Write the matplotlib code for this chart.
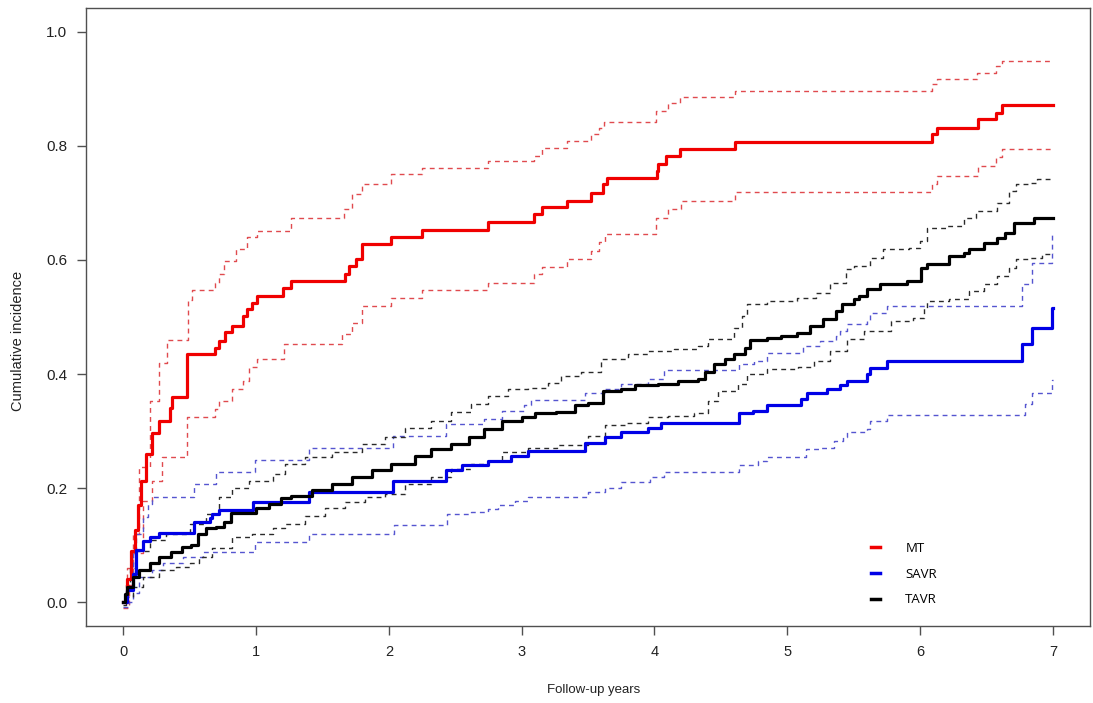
import numpy as np
import matplotlib
matplotlib.use("Agg")
from matplotlib import pyplot as plt

# cumulative incidence step curves (time in years, value)
mt_t = [0, 0.03, 0.06, 0.087, 0.11, 0.137, 0.174, 0.22, 0.27, 0.35, 0.37, 0.48, 0.69, 0.72, 0.77, 0.82,
        0.9, 0.93, 0.97, 1.01, 1.20, 1.26, 1.67, 1.70, 1.75, 1.80, 2.02, 2.25, 2.75, 3.09, 3.15, 3.34,
        3.52, 3.61, 3.64, 4.02, 4.03, 4.09, 4.19, 4.61, 6.09, 6.13, 6.44, 6.57, 6.62, 7.0]
mt_y = [0, 0.04, 0.09, 0.126, 0.17, 0.213, 0.26, 0.296, 0.318, 0.341, 0.359, 0.436, 0.446, 0.458, 0.473, 0.485,
        0.502, 0.514, 0.525, 0.537, 0.55, 0.563, 0.576, 0.59, 0.602, 0.628, 0.64, 0.653, 0.666, 0.68, 0.692, 0.703,
        0.717, 0.733, 0.744, 0.756, 0.768, 0.782, 0.794, 0.807, 0.821, 0.832, 0.847, 0.858, 0.871, 0.871]

mt_hi_t = [0, 0.03, 0.07, 0.12, 0.2, 0.27, 0.33, 0.49, 0.52, 0.69, 0.72, 0.76, 0.85, 0.93, 1.01, 1.26, 1.66,
           1.72, 1.80, 2.02, 2.25, 2.75, 3.09, 3.15, 3.34, 3.52, 3.58, 3.62, 4.01, 4.10, 4.19, 4.61, 6.09,
           6.13, 6.43, 6.57, 6.62, 7.0]
mt_hi = [0, 0.06, 0.12, 0.237, 0.353, 0.42, 0.46, 0.53, 0.548, 0.56, 0.575, 0.598, 0.62, 0.64, 0.65, 0.674, 0.69,
         0.716, 0.733, 0.75, 0.762, 0.773, 0.782, 0.796, 0.808, 0.82, 0.832, 0.842, 0.861, 0.875, 0.886, 0.896, 0.908,
         0.917, 0.928, 0.94, 0.948, 0.948]

mt_lo_t = [0, 0.04, 0.07, 0.15, 0.22, 0.29, 0.48, 0.69, 0.72, 0.82, 0.9, 0.95, 1.01, 1.21, 1.65, 1.72, 1.80,
           2.02, 2.25, 2.75, 3.09, 3.15, 3.34, 3.52, 3.58, 3.63, 4.01, 4.10, 4.20, 4.61, 6.09, 6.13, 6.44,
           6.57, 6.62, 7.0]
mt_lo = [-0.01, 0.03, 0.086, 0.178, 0.213, 0.254, 0.324, 0.338, 0.353, 0.374, 0.388, 0.412, 0.427, 0.453, 0.47,
         0.49, 0.52, 0.534, 0.548, 0.56, 0.576, 0.588, 0.602, 0.616, 0.632, 0.646, 0.674, 0.689, 0.703, 0.719,
         0.733, 0.747, 0.765, 0.78, 0.794, 0.794]

savr_t = [0, 0.03, 0.07, 0.1, 0.15, 0.2, 0.27, 0.53, 0.65, 0.67, 0.72, 0.98, 1.40, 2.03, 2.43, 2.55, 2.75,
          2.92, 3.05, 3.48, 3.63, 3.75, 3.95, 4.05, 4.64, 4.74, 4.85, 5.1, 5.15, 5.3, 5.4, 5.45, 5.6, 5.62,
          5.75, 6.77, 6.84, 6.99, 7.0]
savr_y = [0, 0.021, 0.05, 0.091, 0.108, 0.114, 0.122, 0.14, 0.147, 0.155, 0.161, 0.175, 0.193, 0.213, 0.231,
          0.24, 0.248, 0.257, 0.266, 0.28, 0.289, 0.298, 0.306, 0.315, 0.331, 0.336, 0.345, 0.357, 0.366, 0.374,
          0.38, 0.388, 0.401, 0.411, 0.423, 0.453, 0.481, 0.516, 0.516]

savr_hi_t = [0, 0.03, 0.07, 0.1, 0.15, 0.19, 0.22, 0.53, 0.7, 0.99, 1.40, 2.03, 2.43, 2.72, 2.85, 3.02, 3.07,
             3.48, 3.63, 3.75, 3.95, 4.07, 4.64, 4.75, 4.85, 5.12, 5.25, 5.37, 5.4, 5.45, 5.6, 5.62, 5.75,
             6.77, 6.84, 6.99, 7.0]
savr_hi = [0, 0.04, 0.09, 0.12, 0.149, 0.173, 0.184, 0.208, 0.228, 0.25, 0.271, 0.292, 0.313, 0.322, 0.336,
           0.345, 0.355, 0.366, 0.374, 0.383, 0.392, 0.407, 0.418, 0.423, 0.437, 0.45, 0.458, 0.467, 0.475, 0.488,
           0.493, 0.507, 0.52, 0.558, 0.595, 0.646, 0.646]

savr_lo_t = [0, 0.04, 0.07, 0.12, 0.22, 0.3, 0.45, 0.6, 0.99, 1.40, 2.04, 2.44, 2.62, 2.75, 2.82, 2.95, 3.05,
             3.5, 3.63, 3.75, 3.97, 4.07, 4.64, 4.78, 4.85, 5.14, 5.25, 5.35, 5.42, 5.45, 5.6, 5.62, 5.75,
             6.79, 6.84, 6.99, 7.0]
savr_lo = [-0.008, 0.0, 0.016, 0.044, 0.056, 0.068, 0.08, 0.088, 0.105, 0.12, 0.136, 0.155, 0.159, 0.164, 0.17,
           0.178, 0.184, 0.194, 0.201, 0.21, 0.219, 0.229, 0.24, 0.247, 0.254, 0.268, 0.271, 0.283, 0.29, 0.299,
           0.304, 0.318, 0.329, 0.348, 0.366, 0.389, 0.389]

tavr_t = [0, 0.01, 0.03, 0.07, 0.12, 0.2, 0.27, 0.36, 0.44, 0.51, 0.56, 0.62, 0.7, 0.76, 0.81, 1.0, 1.1, 1.19,
          1.26, 1.42, 1.57, 1.72, 1.87, 2.02, 2.2, 2.32, 2.47, 2.6, 2.72, 2.85, 3.0, 3.1, 3.26, 3.4, 3.5, 3.61,
          3.75, 3.85, 4.03, 4.18, 4.33, 4.38, 4.45, 4.53, 4.6, 4.68, 4.72, 4.85, 4.95, 5.07, 5.17, 5.27, 5.37,
          5.41, 5.5, 5.54, 5.6, 5.7, 5.9, 6.01, 6.05, 6.22, 6.33, 6.37, 6.48, 6.58, 6.64, 6.71, 6.86, 7.0]
tavr_y = [0, 0.015, 0.026, 0.044, 0.056, 0.068, 0.079, 0.088, 0.097, 0.1, 0.12, 0.13, 0.132, 0.14, 0.157, 0.166,
          0.173, 0.182, 0.187, 0.196, 0.208, 0.219, 0.231, 0.243, 0.257, 0.269, 0.278, 0.29, 0.303, 0.318, 0.324,
          0.331, 0.334, 0.345, 0.35, 0.371, 0.374, 0.38, 0.383, 0.388, 0.392, 0.403, 0.418, 0.427, 0.436, 0.446,
          0.46, 0.464, 0.467, 0.472, 0.485, 0.497, 0.511, 0.523, 0.532, 0.537, 0.549, 0.558, 0.563, 0.586, 0.593,
          0.607, 0.612, 0.619, 0.63, 0.639, 0.647, 0.665, 0.674, 0.674]

tavr_hi_t = [0, 0.02, 0.05, 0.1, 0.2, 0.32, 0.5, 0.62, 0.72, 0.82, 0.95, 1.13, 1.22, 1.37, 1.57, 1.8, 1.97,
             2.12, 2.32, 2.47, 2.62, 2.75, 2.9, 3.05, 3.2, 3.3, 3.45, 3.6, 3.8, 3.95, 4.15, 4.33, 4.4, 4.6, 4.66,
             4.7, 4.85, 5.07, 5.22, 5.32, 5.44, 5.5, 5.62, 5.72, 5.92, 6.0, 6.05, 6.2, 6.33, 6.42, 6.58, 6.67,
             6.72, 6.82, 6.88, 7.0]
tavr_hi = [0, 0.03, 0.06, 0.09, 0.11, 0.12, 0.138, 0.155, 0.184, 0.2, 0.213, 0.225, 0.243, 0.254, 0.263, 0.278,
           0.289, 0.306, 0.318, 0.333, 0.348, 0.362, 0.374, 0.376, 0.385, 0.397, 0.403, 0.427, 0.436, 0.441, 0.444,
           0.45, 0.462, 0.481, 0.502, 0.523, 0.528, 0.534, 0.542, 0.56, 0.584, 0.59, 0.604, 0.619, 0.621, 0.633,
           0.656, 0.66, 0.674, 0.686, 0.7, 0.721, 0.733, 0.735, 0.742, 0.742]

tavr_lo_t = [0, 0.02, 0.07, 0.15, 0.27, 0.4, 0.5, 0.57, 0.67, 0.82, 0.97, 1.13, 1.22, 1.37, 1.52, 1.67, 1.82,
             1.97, 2.12, 2.32, 2.47, 2.62, 2.75, 2.85, 3.05, 3.27, 3.5, 3.63, 3.78, 3.95, 4.1, 4.3, 4.4, 4.48,
             4.63, 4.7, 4.85, 5.08, 5.2, 5.32, 5.45, 5.58, 5.78, 5.95, 6.03, 6.05, 6.22, 6.37, 6.48, 6.58, 6.67,
             6.72, 6.82, 6.92, 7.0]
tavr_lo = [-0.005, 0.01, 0.026, 0.044, 0.056, 0.061, 0.068, 0.079, 0.096, 0.114, 0.12, 0.131, 0.138, 0.152, 0.166,
           0.175, 0.184, 0.19, 0.208, 0.219, 0.234, 0.242, 0.248, 0.263, 0.271, 0.275, 0.292, 0.31, 0.315, 0.324,
           0.327, 0.331, 0.353, 0.371, 0.383, 0.4, 0.409, 0.413, 0.423, 0.441, 0.461, 0.476, 0.493, 0.499, 0.516,
           0.528, 0.532, 0.546, 0.558, 0.572, 0.586, 0.602, 0.604, 0.611, 0.612]

groups = ["MT", "SAVR", "TAVR"]
x_ticks = [0, 1, 2, 3, 4, 5, 6, 7]
y_ticks = [0.0, 0.2, 0.4, 0.6, 0.8, 1.0]

fig = plt.figure(figsize=(10.93, 7.03), dpi=100)
ax = fig.add_axes([0.0787, 0.1095, 0.9186, 0.8791])

ci_kw = dict(where='post', lw=1.0, dashes=(3.5, 3.0))
ax.step(mt_hi_t, mt_hi, color='#e04a4e', **ci_kw)
ax.step(mt_lo_t, mt_lo, color='#e04a4e', **ci_kw)
ax.step(savr_hi_t, savr_hi, color='#5555d0', **ci_kw)
ax.step(savr_lo_t, savr_lo, color='#5555d0', **ci_kw)
ax.step(tavr_hi_t, tavr_hi, color='#2a2a2a', **ci_kw)
ax.step(tavr_lo_t, tavr_lo, color='#2a2a2a', **ci_kw)

ax.step(mt_t, mt_y, where='post', color='#f00000', lw=2.3, label=groups[0])
ax.step(savr_t, savr_y, where='post', color='#0000e6', lw=2.3, label=groups[1])
ax.step(tavr_t, tavr_y, where='post', color='black', lw=2.3, label=groups[2])

ax.set_xlim(-0.28, 7.28)
ax.set_ylim(-0.0416, 1.0416)
ax.set_xticks(x_ticks)
ax.set_xticklabels([str(v) for v in x_ticks])
ax.set_yticks(y_ticks)
ax.set_yticklabels(["%.1f" % v for v in y_ticks])

for s in ax.spines.values():
    s.set_color('#505050')
    s.set_linewidth(1.0)
ax.tick_params(direction='out', length=6.5, width=1.0, color='#505050',
               labelcolor='#222222', pad=7)
ax.tick_params(axis='y', labelsize=11)
ax.tick_params(axis='x', labelsize=10.5)
for lab in ax.get_xticklabels() + ax.get_yticklabels():
    lab.set_family('Liberation Sans')

fig.text(0.0165, 0.515, "Cumulative incidence", rotation=90, va='center', ha='center',
         fontsize=10.5, family='Liberation Sans', color='#222222')
fig.text(0.543, 0.018, "Follow-up years", ha='center', va='center',
         fontsize=9.5, family='Liberation Sans', color='#222222')

leg = ax.legend(loc='upper left', bbox_to_anchor=(0.77, 0.155), frameon=False,
                handlelength=0.7, handletextpad=1.9, labelspacing=0.95,
                prop={'family': 'Open Sans', 'size': 9.5})
for h in leg.get_lines():
    h.set_linewidth(2.5)

plt.savefig('out.png', dpi=100)
